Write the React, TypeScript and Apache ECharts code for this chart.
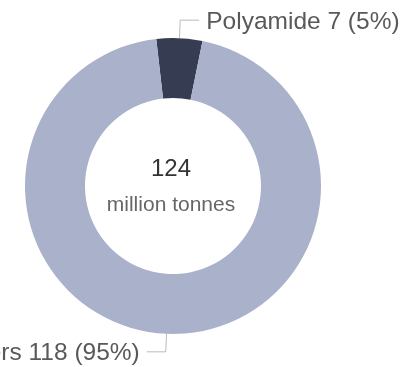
import React, { useEffect, useRef } from "react";
import * as echarts from "echarts";

const categories = ["Polyamide", "Others"];
const values = [7, 118];
const shares = [5, 95];
const colors = ["#363c51", "#aab1cb"];
const totalLabel = "124";
const unitLabel = "million tonnes";

export default function App() {
  const ref = useRef<HTMLDivElement>(null);
  useEffect(() => {
    if (!ref.current) return;
    const chart = echarts.init(ref.current, null, { renderer: "svg" });
    chart.setOption({
      animation: false,
      textStyle: { fontFamily: "Liberation Sans, Arial, sans-serif" },
      graphic: [
        {
          type: "text",
          x: 171,
          y: 167,
          style: {
            text: totalLabel,
            fontSize: 24,
            fill: "#333333",
            align: "center",
            verticalAlign: "middle",
            fontFamily: "Liberation Sans, Arial, sans-serif",
          },
        },
        {
          type: "text",
          x: 171,
          y: 203,
          style: {
            text: unitLabel,
            fontSize: 21,
            fill: "#666666",
            align: "center",
            verticalAlign: "middle",
            fontFamily: "Liberation Sans, Arial, sans-serif",
          },
        },
      ],
      series: [
        {
          type: "pie",
          center: [173, 186],
          radius: [88, 148],
          startAngle: 96.5,
          clockwise: true,
          avoidLabelOverlap: false,
          emphasis: { disabled: true },
          label: {
            show: true,
            position: "outside",
            fontSize: 24.5,
            color: "#595959",
            overflow: "none",
            distanceToLabelLine: 7,
            fontFamily: "Liberation Sans, Arial, sans-serif",
            formatter: (p: any) =>
              `${p.name} ${values[p.dataIndex]} (${shares[p.dataIndex]}%)`,
          },
          labelLine: {
            show: true,
            length: 18,
            length2: 19,
            lineStyle: { color: "#bbbbbb", width: 1 },
          },
          data: categories.map((c, i) => ({
            name: c,
            value: shares[i],
            itemStyle: { color: colors[i] },
          })),
        },
      ],
    });
    return () => chart.dispose();
  }, []);
  return (
    <div
      ref={ref}
      style={{ position: "fixed", left: 0, top: 0, width: 407, height: 367 }}
    />
  );
}
